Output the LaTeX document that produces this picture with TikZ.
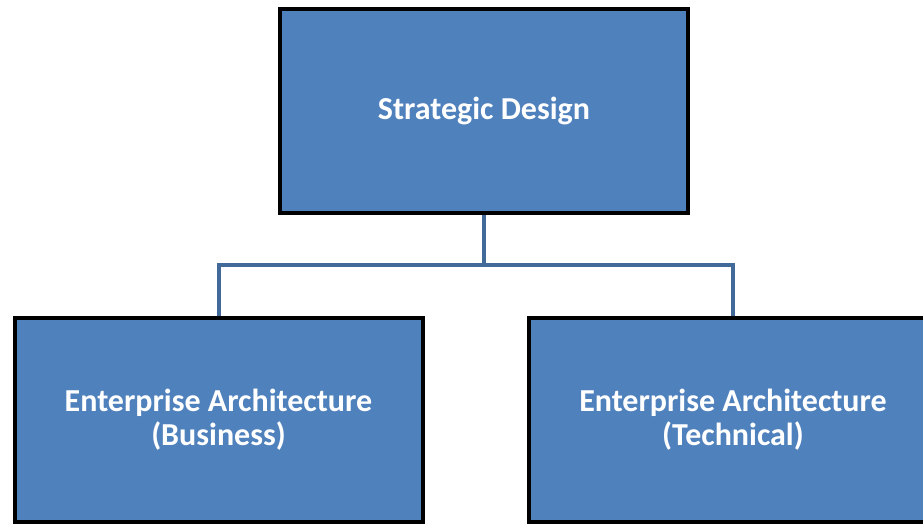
\documentclass[tikz,border=0pt]{standalone}
\usepackage{fontspec}
\setmainfont{Carlito}
\usetikzlibrary{positioning}
\definecolor{boxblue}{HTML}{4F81BD}
\definecolor{linkblue}{HTML}{41699A}

\begin{document}
\begin{tikzpicture}[x=1pt, y=-1pt,
  box/.style = {draw=black, line width=4pt, fill=boxblue, text=white, align=center,
                minimum width=408pt, minimum height=204pt, inner sep=0pt,
                font=\fontsize{32}{34}\selectfont\bfseries},
  link/.style = {draw=linkblue, line width=4pt}]
\useasboundingbox (0,0) rectangle (923,523);
\clip (0,0) rectangle (923,523);
\node[box] (strat) at (484,111) {Strategic Design};
\node[box] (biz) at (218.5,419.5) {Enterprise Architecture\\(Business)};
\node[box] (tech) at (733,419.5) {Enterprise Architecture\\(Technical)};
\coordinate (split) at (484,265);
\draw[link] (strat.south) -- (split) -| (biz.north);
\draw[link] (split) -| (tech.north);
\end{tikzpicture}
\end{document}
